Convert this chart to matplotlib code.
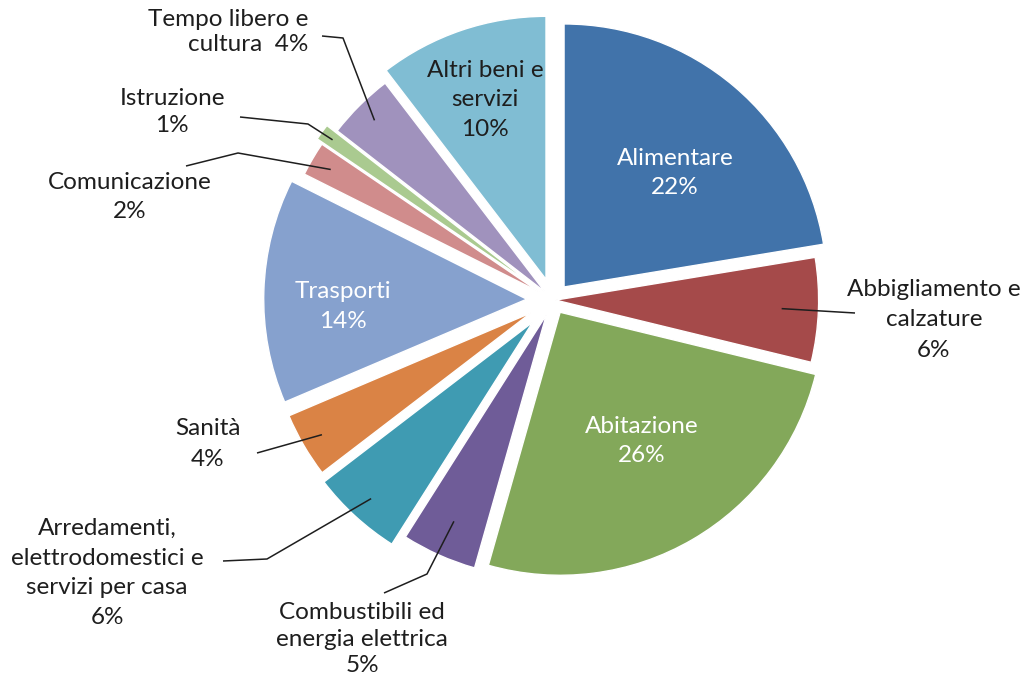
import numpy as np
import matplotlib.pyplot as plt

plt.rcParams['font.family'] = ['Lato', 'DejaVu Sans']

# dati
categories = ['Alimentare', 'Abbigliamento e\ncalzature', 'Abitazione',
              'Combustibili ed\nenergia elettrica',
              'Arredamenti,\nelettrodomestici e\nservizi per casa',
              'Sanità', 'Trasporti', 'Comunicazione', 'Istruzione',
              'Tempo libero e\ncultura', 'Altri beni e\nservizi']
values = [22.4, 6.4, 25.6, 4.6, 5.6, 4.0, 13.8, 2.1, 1.0, 4.1, 10.4]

colors = ['#4173AA', '#A54A4A', '#83A85A', '#6F5C98', '#3F9BB2', '#DA8345',
          '#86A1CE', '#D08C8C', '#AACA90', '#A092BD', '#80BDD3']
explode = [0.065, 0.01, 0.054, 0.062, 0.114, 0.097, 0.10, 0.06, 0.086, 0.043, 0.083]

W, H = 1027, 680
CX, CY, R = 553, 300, 263   # centro e raggio in pixel


def px(x, y):
    # pixel immagine -> coordinate dati (raggio = 1)
    return (x - CX) / R, (CY - y) / R


fig = plt.figure(figsize=(W / 100, H / 100), dpi=100)
ax = fig.add_axes([0, 0, 1, 1])
wedges, _ = ax.pie(values, explode=explode, colors=colors, startangle=90,
                   counterclock=False, radius=1, center=(0, 0),
                   wedgeprops=dict(edgecolor='white', linewidth=1))
x0, y0 = px(0, H)
x1, y1 = px(W, 0)
ax.set_xlim(x0, x1)
ax.set_ylim(y0, y1)
ax.set_aspect('equal')
ax.axis('off')

total = sum(values)
pcts = [f'{round(v / total * 100):.0f}%' for v in values]


def point_in(w, frac, dth=0.0):
    th = np.deg2rad((w.theta1 + w.theta2) / 2 + dth)
    cx, cy = w.center
    return cx + frac * w.r * np.cos(th), cy + frac * w.r * np.sin(th)


FS = 17.5
dark = '#1e1e1e'

# etichette interne
inside = {0: (0.605, -3.9, 'white'), 2: (0.58, 2.2, 'white'),
          6: (0.70, 4.0, 'white'), 10: (0.72, 0.0, dark)}
for i, (frac, dth, col) in inside.items():
    x, y = point_in(wedges[i], frac, dth)
    ax.text(x, y, categories[i] + '\n' + pcts[i], ha='center', va='center',
            color=col, fontsize=FS, linespacing=1.52)

# etichette esterne con linee guida
outside = {
    1: ((934, 320), 'center', 0.86, [(855, 313)], 1.54),
    3: ((362, 639), 'center', 0.86, [(427, 574), (384, 593)], 1.3),
    4: ((107, 573), 'center', 0.91, [(267, 559), (223, 561)], 1.5),
    5: ((208, 444), 'center', 0.92, [(257, 453)], 1.54),
    7: ((130, 197), 'center', 0.92, [(238, 153), (186, 166)], 1.5),
    8: ((172, 112), 'center', 0.95, [(308, 124), (240, 117)], 1.35),
    9: ((308, 32), 'right', 0.92, [(343, 38), (322, 36)], 1.2),
}
for i, (pos, ha, frac, path, ls) in outside.items():
    sx, sy = point_in(wedges[i], frac)
    pts = [(sx, sy)] + [px(*p) for p in path]
    ax.plot([p[0] for p in pts], [p[1] for p in pts], color=dark, lw=1.1,
            solid_capstyle='butt')
    sep = '  ' if i == 9 else '\n'
    tx, ty = px(*pos)
    ax.text(tx, ty, categories[i] + sep + pcts[i], ha=ha, va='center',
            multialignment=ha, color=dark, fontsize=FS, linespacing=ls)

fig.savefig('out.png', dpi=100, facecolor='white')
